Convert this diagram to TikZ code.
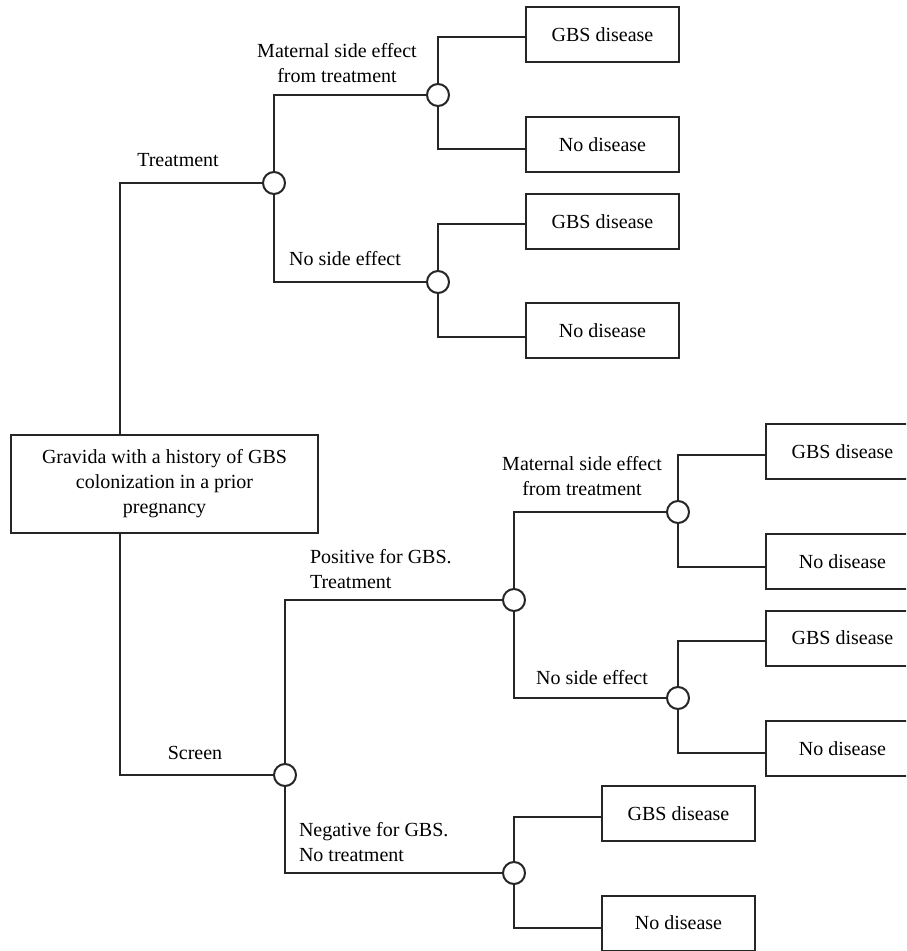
\documentclass[tikz,border=0pt]{standalone}
\usepackage{fontspec}
\setmainfont{Liberation Serif}
\usetikzlibrary{positioning}

\begin{document}
\begin{tikzpicture}[x=0.5pt,y=-0.5pt,line width=1pt,draw=black!85,
  every node/.style={font=\fontsize{10}{12.5}\selectfont},
  outcome/.style={draw=black!85,minimum width=76.5pt,minimum height=27.5pt,inner sep=0pt},
  chance/.style={draw=black!85,circle,minimum size=11pt,inner sep=0pt,fill=white},
  lbl/.style={inner sep=0pt,align=center}]
\useasboundingbox (0,0) rectangle (906,951);
\clip (0,0) rectangle (906,951);
% start
\node[draw=black!85,minimum width=153.5pt,minimum height=49pt,align=center] (root) at (164.5,484)
  {Gravida with a history of GBS\\colonization in a prior\\pregnancy};
% chance nodes
\node[chance] (ct) at (274,183) {};
\node[chance] (c1) at (438,95) {};
\node[chance] (c2) at (438,282) {};
\node[chance] (cs) at (285,775) {};
\node[chance] (cp) at (514,600) {};
\node[chance] (c3) at (678,512) {};
\node[chance] (c4) at (678,698) {};
\node[chance] (cn) at (514,873) {};
% outcomes
\node[outcome] (b1) at (602.5,34.5) {GBS disease};
\node[outcome] (b2) at (602.5,144.5) {No disease};
\node[outcome] (b3) at (602.5,221.5) {GBS disease};
\node[outcome] (b4) at (602.5,331) {No disease};
\node[outcome] (b5) at (842.5,451.5) {GBS disease};
\node[outcome] (b6) at (842.5,561.5) {No disease};
\node[outcome] (b7) at (842.5,638) {GBS disease};
\node[outcome] (b8) at (842.5,748.5) {No disease};
\node[outcome] (b9) at (678.5,813.5) {GBS disease};
\node[outcome] (b10) at (678.5,923) {No disease};
% branch labels
\node[lbl] (ltr) at (178,160) {Treatment};
\node[lbl] (lm1) at (337,63.5) {Maternal side effect\\from treatment};
\node[lbl] (ln1) at (345,259) {No side effect};
\node[lbl] (lsc) at (195,753) {Screen};
\node[lbl,align=left,anchor=west] (lpos) at (309,569) {Positive for GBS.\\Treatment};
\node[lbl] (lm2) at (582,476.5) {Maternal side effect\\from treatment};
\node[lbl] (ln2) at (592,678) {No side effect};
\node[lbl,align=left,anchor=west] (lneg) at (298,842.5) {Negative for GBS.\\No treatment};
% connectors
\draw ([xshift=55pt]root.north west) |- (ct);
\draw ([xshift=55pt]root.south west) |- (cs);
\draw (ct) |- (c1);
\draw (ct) |- (c2);
\draw (cs) |- (cp);
\draw (cs) |- (cn);
\draw (cp) |- (c3);
\draw (cp) |- (c4);
\draw (c1) |- ([yshift=-1.5pt]b1.west);
\draw (c1) |- ([yshift=-2.5pt]b2.west);
\draw (c2) |- ([yshift=-1.5pt]b3.west);
\draw (c2) |- ([yshift=-3pt]b4.west);
\draw (c3) |- ([yshift=-1.5pt]b5.west);
\draw (c3) |- ([yshift=-2.5pt]b6.west);
\draw (c4) |- ([yshift=-1.5pt]b7.west);
\draw (c4) |- ([yshift=-2pt]b8.west);
\draw (cn) |- ([yshift=-1.5pt]b9.west);
\draw (cn) |- ([yshift=-2.5pt]b10.west);
\end{tikzpicture}
\end{document}
